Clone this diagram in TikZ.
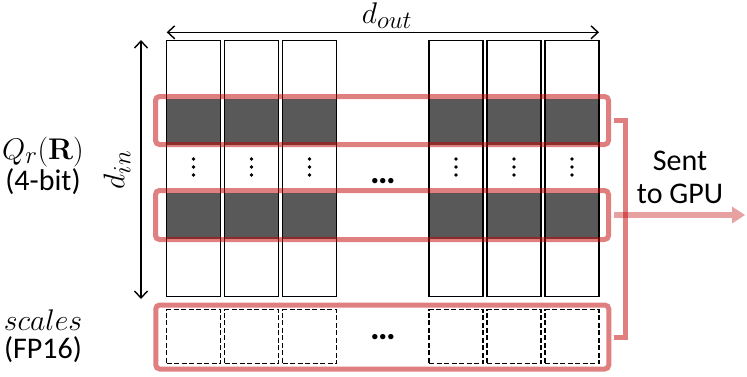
\documentclass[tikz,border=0pt]{standalone}
\usepackage{graphicx}
\usepackage[no-math]{fontspec}
\setmainfont{Carlito}
\usetikzlibrary{arrows.meta}
\definecolor{hl}{RGB}{192,0,0}
\definecolor{cellgray}{RGB}{89,89,89}
\newcommand{\bigmath}[1]{\scalebox{1.2}{$#1$}}
\begin{document}
\begin{tikzpicture}[x=1pt,y=-1pt,
 col/.style={draw=black,line width=1.5pt,minimum width=54pt,minimum height=256pt,inner sep=0pt},
 dark/.style={fill=cellgray,minimum width=54pt,minimum height=46pt,inner sep=0pt},
 sc/.style={draw=black,line width=1.4pt,dash pattern=on 5pt off 2.5pt,minimum width=54pt,minimum height=54pt,inner sep=0pt},
 redbox/.style={draw=hl,draw opacity=0.5,line width=5pt,rounded corners=4pt,minimum width=453pt,inner sep=0pt},
 redline/.style={draw=hl,draw opacity=0.5,line width=5pt},
 gpuline/.style={draw=hl,draw opacity=0.37,line width=5.5pt},
 gpuhead/.style={fill=hl,fill opacity=0.37},
 dimarrow/.style={line width=1.4pt,{Straight Barb[length=7pt,width=13pt]}-{Straight Barb[length=7pt,width=13pt]}},
 lab/.style={font=\fontsize{30}{33}\selectfont,inner sep=0pt},
 dotlab/.style={font=\fontsize{36}{38}\selectfont\bfseries,inner sep=0pt},
 mlab/.style={font=\fontsize{24.88}{28}\selectfont,inner sep=0pt},
 ]
\useasboundingbox (0,0) rectangle (747,376);
% dark bands
\foreach \i/\x in {1/193.5,2/251.5,3/309.5,4/456,5/514,6/572}{
  \node[dark] (da\i) at (\x,121.75) {};
  \node[dark] (db\i) at (\x,216.25) {};
}
% columns
\foreach \i/\x in {1/193.5,2/251.5,3/309.5,4/456,5/514,6/572}{
  \node[col] (c\i) at (\x,168.5) {};
  \node[sc] (s\i) at (\x,336.5) {};
  \fill (\x,159) circle (1.9) (\x,167) circle (1.9) (\x,175) circle (1.9);
}
\node[dotlab] (e1) at (383,181) {…};
\node[dotlab] (e2) at (383,337) {…};
% red boxes
\node[redbox,minimum height=48pt] (b1) at (382,120.5) {};
\node[redbox,minimum height=49pt] (b2) at (382,215) {};
\node[redbox,minimum height=64pt] (bs) at (382.25,337) {};
% connectors
\coordinate (vt) at (625.5,120.5);
\coordinate (vb) at (625.5,337);
\coordinate (tip) at (745,215);
\coordinate (hb) at (732,215);
\draw[redline] ([xshift=2.5pt]b1.east) -- (vt) -- (vb) -- ([xshift=2.5pt]bs.east);
\draw[gpuline] ([xshift=2.5pt]b2.east) -- (hb);
\fill[gpuhead] (tip) -- ([yshift=-8.5pt]hb) -- ([yshift=8.5pt]hb) -- cycle;
% dimension arrows
\coordinate (ol) at (166.7,32.3);
\coordinate (or) at (599,32.3);
\coordinate (it) at (141,40);
\coordinate (ib) at (141,299);
\draw[dimarrow] (ol) -- (or);
\draw[dimarrow] (it) -- (ib);
% labels
\node[mlab] (dout) at (387,16) {\bigmath{d_{out}}};
\node[mlab,rotate=90] (din) at (117,170) {\bigmath{d_{in}}};
\node[mlab] (q) at (43,152) {\bigmath{Q_r(\mathbf{R})}};
\node[lab] (qb) at (43,182) {(4-bit)};
\node[mlab] (scl) at (43,320) {\bigmath{scales}};
\node[lab] (fp) at (43,350) {(FP16)};
\node[lab,align=center] (gpu) at (680,177) {Sent\\to GPU};
\end{tikzpicture}
\end{document}
